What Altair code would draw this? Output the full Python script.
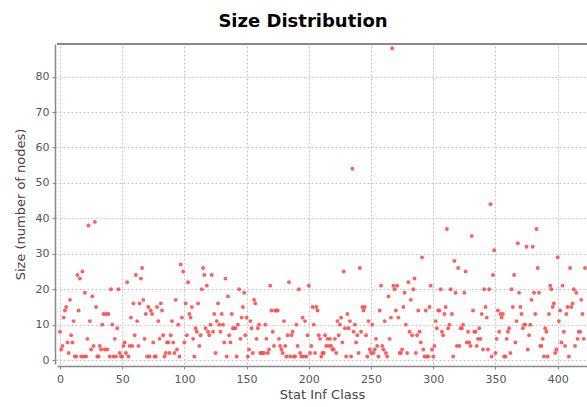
import altair as alt
import pandas as pd

# Size per Stat Inf Class index (0..422)
sizes = [
    8, 3, 4, 12, 14, 15, 5, 2, 17, 7, 5, 11, 1, 1, 24, 14, 23, 1, 25, 1,
    19, 1, 6, 38, 11, 3, 18, 4, 39, 15, 1, 1, 4, 3, 10, 13, 3, 13, 3, 13,
    1, 20, 10, 1, 6, 1, 9, 20, 2, 1, 1, 4, 5, 2, 22, 1, 4, 12, 4, 16,
    7, 24, 11, 4, 16, 23, 26, 17, 6, 13, 1, 15, 1, 14, 13, 5, 1, 1, 15, 11,
    # 80..163
    6, 16, 14, 7, 1, 2, 5, 5, 2, 7, 11, 5, 2, 17, 3, 10, 1, 27, 12, 25,
    5, 16, 7, 22, 13, 12, 15, 6, 1, 9, 8, 16, 4, 7, 20, 26, 24, 9, 21, 8,
    7, 10, 24, 8, 13, 2, 11, 16, 10, 8, 13, 10, 5, 23, 1, 18, 7, 5, 13, 9,
    9, 9, 1, 10, 20, 6, 12, 15, 19, 7, 12, 1, 3, 11, 9, 2, 17, 16, 6, 9,
    10, 2, 2, 2,
    # 164..249
    2, 10, 6, 2, 3, 21, 14, 8, 4, 14, 14, 14, 6, 4, 3, 2, 11, 4, 1, 7,
    22, 1, 7, 8, 1, 1, 10, 4, 20, 2, 1, 12, 1, 11, 1, 7, 21, 2, 4, 15,
    10, 2, 15, 14, 7, 6, 1, 2, 2, 7, 4, 6, 4, 6, 4, 3, 3, 6, 2, 11,
    7, 10, 12, 5, 25, 9, 1, 13, 9, 11, 1, 54, 8, 10, 5, 7, 2, 26, 8, 15,
    14, 15, 7, 1, 11, 3,
    # 250..333
    2, 10, 2, 3, 6, 4, 1, 14, 21, 4, 3, 11, 2, 1, 18, 6, 12, 88, 21, 20,
    14, 21, 12, 2, 2, 3, 15, 19, 10, 2, 22, 8, 17, 7, 20, 23, 2, 7, 14, 8,
    5, 29, 3, 1, 14, 1, 1, 15, 21, 3, 1, 4, 11, 9, 14, 14, 20, 8, 7, 13,
    15, 37, 9, 10, 20, 13, 1, 28, 19, 4, 26, 4, 9, 9, 10, 19, 25, 5, 8, 5,
    4, 35, 14, 8,
    # 334..422
    8, 4, 6, 9, 6, 13, 3, 20, 15, 12, 3, 20, 44, 1, 24, 31, 2, 6, 14, 8,
    13, 12, 13, 1, 1, 6, 8, 9, 2, 20, 15, 24, 5, 11, 33, 19, 15, 13, 9, 10,
    10, 32, 3, 7, 10, 17, 32, 19, 13, 37, 26, 19, 4, 4, 6, 1, 9, 8, 1, 13,
    21, 20, 15, 16, 2, 3, 29, 11, 14, 5, 21, 8, 4, 13, 15, 1, 26, 15, 16, 20,
    4, 19, 6, 8, 8, 17, 13, 6, 26,
]
classes = list(range(len(sizes)))

x_ticks = [0, 50, 100, 150, 200, 250, 300, 350, 400]
y_ticks = [0, 10, 20, 30, 40, 50, 60, 70, 80]

df = pd.DataFrame({"cls": classes, "size": sizes})

W, H = 530, 320

points = alt.Chart(df).mark_circle(size=15, color="#ff4d4d", opacity=0.9, clip=True).encode(
    x=alt.X("cls:Q", scale=alt.Scale(domain=[-2.4, 423.6], nice=False, zero=False),
            axis=alt.Axis(values=x_ticks, title="Stat Inf Class", format="d")),
    y=alt.Y("size:Q", scale=alt.Scale(domain=[-1.1, 89.2], nice=False, zero=False),
            axis=alt.Axis(values=y_ticks, title="Size (number of nodes)", format="d")),
)

top_border = alt.Chart(df).mark_rule(color="#888888", strokeWidth=1.5).encode(
    x=alt.value(0), x2=alt.value(W), y=alt.value(0)
)

chart = alt.layer(points, top_border).properties(
    width=W, height=H,
    title=alt.TitleParams("Size Distribution", font="DejaVu Sans", fontSize=18,
                          fontWeight="bold", color="#000000", anchor="middle",
                          dx=-19, offset=12),
    autosize=alt.AutoSizeParams(type="none"),
    padding={"left": 57, "top": 44, "right": 0, "bottom": 43},
).configure_view(stroke=None).configure_axis(
    grid=True, gridColor="#c4c4c4", gridDash=[2, 2], gridWidth=1,
    domainColor="#888888", domainWidth=1.5,
    tickColor="#888888", tickSize=3,
    labelFont="DejaVu Sans", labelFontSize=11, labelColor="#555555",
    titleFont="DejaVu Sans", titleFontSize=13, titleFontWeight="normal", titleColor="#444444",
).configure_axisX(labelPadding=4, titlePadding=4, offset=2).configure_axisY(
    labelPadding=3, titlePadding=8, offset=2
)

chart.save("out.html", embed_options={"renderer": "svg", "actions": False})
